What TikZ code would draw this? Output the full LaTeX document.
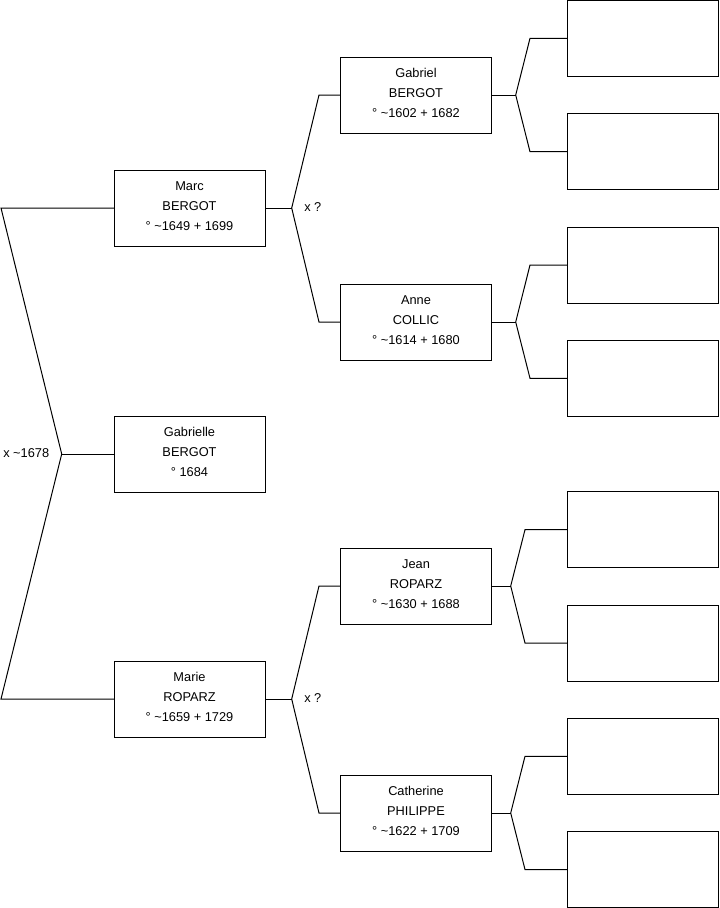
\documentclass[tikz,border=0pt]{standalone}
\usepackage{fontspec}
\setmainfont{Liberation Sans}
\usepackage{xcolor}
\usepackage{tikz}
\usetikzlibrary{positioning, calc}

\begin{document}
\begin{tikzpicture}[
  x=0.75pt, y=-0.75pt,
  person/.style={rectangle, draw=black, line width=0.75pt, minimum width=113.25pt, minimum height=57pt, align=center, outer sep=0pt, font=\fontsize{9.6}{15}\selectfont, execute at end node={\rule[-2.6pt]{0pt}{0pt}}},
  blank/.style={rectangle, draw=black, line width=0.75pt, minimum width=113.25pt, minimum height=57pt, outer sep=0pt},
  link/.style={line width=0.75pt, line join=miter},
  mar/.style={font=\fontsize{9.6}{11}\selectfont, inner sep=0pt, anchor=west}
]
  \useasboundingbox (0,0) rectangle (719,908);

  % child and parents
  \node[person] (marc) at (189.5, 208) {Marc\\BERGOT\\° \textasciitilde1649 + 1699};
  \node[person] (gabrielle) at (189.5, 454) {Gabrielle\\BERGOT\\° 1684};
  \node[person] (marie) at (189.5, 699) {Marie\\ROPARZ\\° \textasciitilde1659 + 1729};

  % grandparents
  \node[person] (gabriel) at (416, 95) {Gabriel\\BERGOT\\° \textasciitilde1602 + 1682};
  \node[person] (anne) at (416, 322) {Anne\\COLLIC\\° \textasciitilde1614 + 1680};
  \node[person] (jean) at (416, 586) {Jean\\ROPARZ\\° \textasciitilde1630 + 1688};
  \node[person] (catherine) at (416, 813) {Catherine\\PHILIPPE\\° \textasciitilde1622 + 1709};

  % unknown great-grandparents
  \node[blank] (e1) at (643, 38.3) {};
  \node[blank] (e2) at (643, 151.7) {};
  \node[blank] (e3) at (643, 265) {};
  \node[blank] (e4) at (643, 378.3) {};
  \node[blank] (e5) at (643, 529.7) {};
  \node[blank] (e6) at (643, 643) {};
  \node[blank] (e7) at (643, 756.3) {};
  \node[blank] (e8) at (643, 869.5) {};

  % fork points
  \coordinate (fL) at (61.7, 454);
  \coordinate (fLa) at (1, 208);
  \coordinate (fLb) at (1, 699);
  \coordinate (fM) at (291.7, 208);
  \coordinate (fMa) at (319, 95);
  \coordinate (fMb) at (319, 322);
  \coordinate (fR) at (291.7, 699);
  \coordinate (fRa) at (319, 586);
  \coordinate (fRb) at (319, 813);
  \coordinate (fG) at (515.7, 95);
  \coordinate (fA) at (515.7, 322);
  \coordinate (fJ) at (510.7, 586);
  \coordinate (fC) at (510.7, 813);

  \draw[link] (marc.west) -- (fLa) -- (fL) -- (fLb) -- (marie.west);
  \draw[link] (fL) -- (gabrielle.west);
  \node[mar] (mL) at (3, 453) {x \textasciitilde1678};

  \draw[link] (gabriel.west) -- (fMa) -- (fM) -- (fMb) -- (anne.west);
  \draw[link] (marc.east) -- (fM);
  \node[mar] (mM) at (304, 207.5) {x ?};

  \draw[link] (jean.west) -- (fRa) -- (fR) -- (fRb) -- (catherine.west);
  \draw[link] (marie.east) -- (fR);
  \node[mar] (mR) at (304, 698) {x ?};

  \draw[link] (e1.west) -- (530, 38.3) -- (fG) -- (530, 151.7) -- (e2.west);
  \draw[link] (gabriel.east) -- (fG);
  \draw[link] (e3.west) -- (530, 265) -- (fA) -- (530, 378.3) -- (e4.west);
  \draw[link] (anne.east) -- (fA);
  \draw[link] (e5.west) -- (525, 529.7) -- (fJ) -- (525, 643) -- (e6.west);
  \draw[link] (jean.east) -- (fJ);
  \draw[link] (e7.west) -- (525, 756.3) -- (fC) -- (525, 869.5) -- (e8.west);
  \draw[link] (catherine.east) -- (fC);
\end{tikzpicture}
\end{document}
